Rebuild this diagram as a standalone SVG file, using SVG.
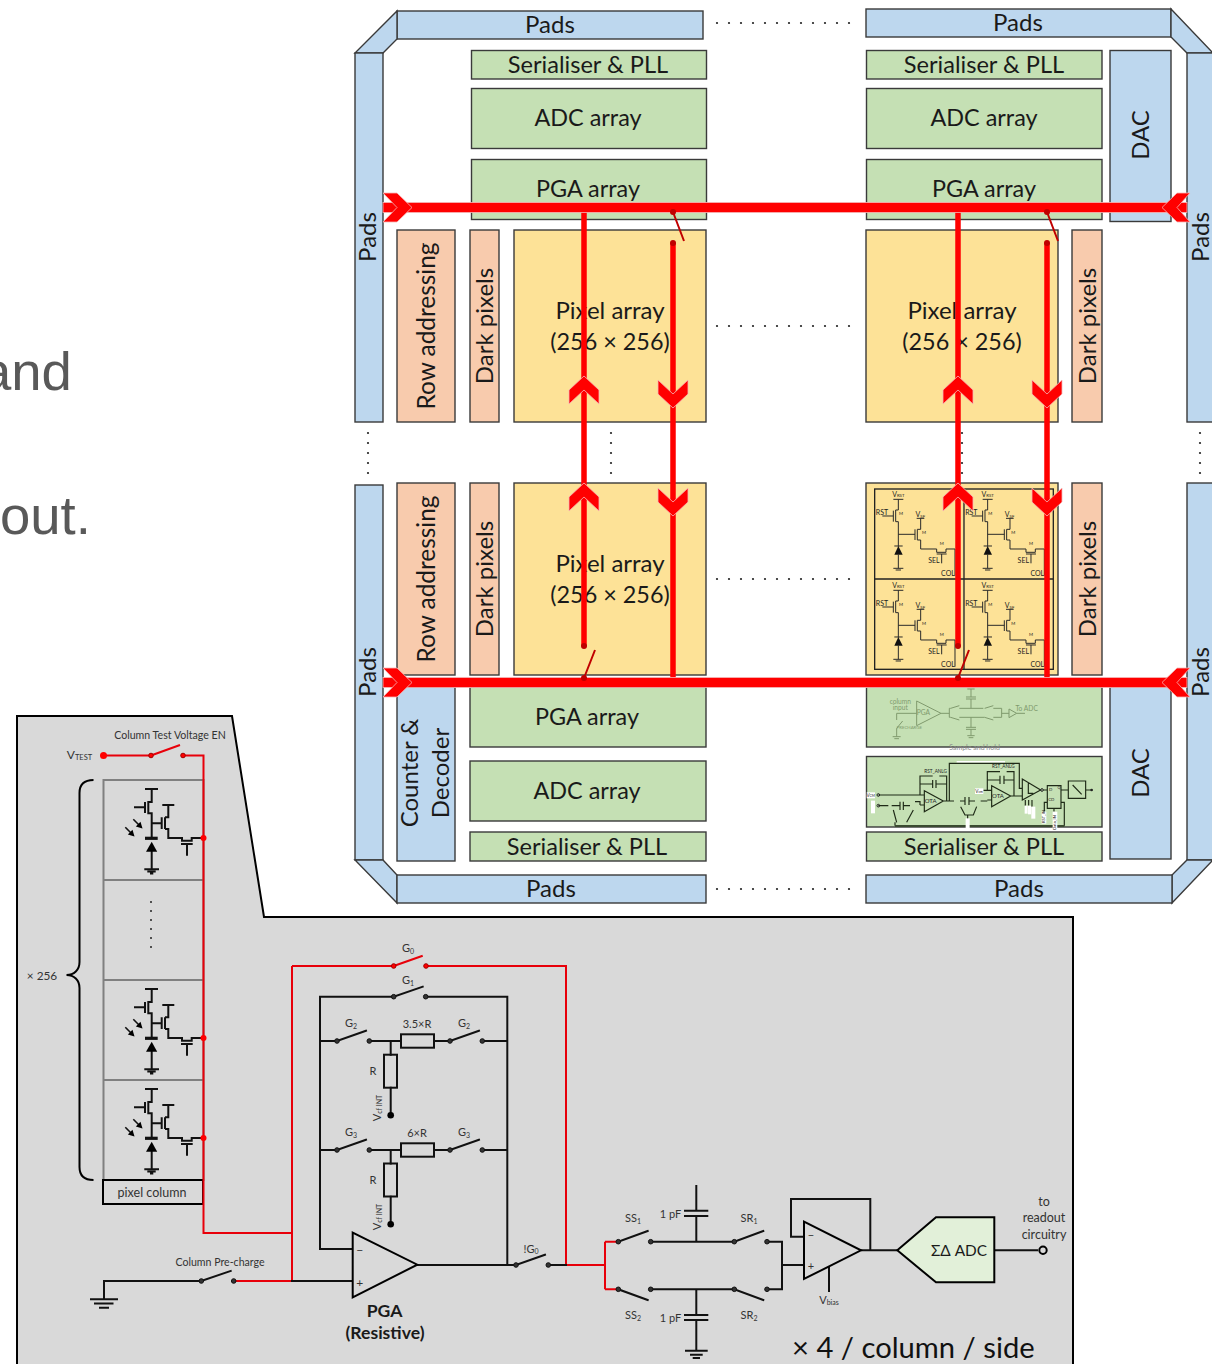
<svg xmlns="http://www.w3.org/2000/svg" xmlns:xlink="http://www.w3.org/1999/xlink" width="1212" height="1364" viewBox="0 0 1212 1364">
<style>
text{font-family:"Lato","Open Sans","Liberation Sans",sans-serif;fill:#1a1a1a}
.b{stroke:#3a3a3a;stroke-width:1.4}
.pad{fill:#bdd7ee}.grn{fill:#c5e0b4}.pch{fill:#f8cbad}.yel{fill:#fde297}
.t{font-size:24px;text-anchor:middle}
.ser{font-size:23.6px}.arr{font-size:23.4px}.num{font-size:23.4px}.row{font-size:24.4px}
.bg{font-family:"Liberation Sans",sans-serif;font-size:54.5px;fill:#595959}
.d{fill:#222}
.w{fill:none;stroke:#111;stroke-width:2;stroke-linecap:square}
.r{fill:none;stroke:#e8000a;stroke-width:2}
.c{fill:#333;stroke:#111;stroke-width:1}
.cr{fill:#ff0000;stroke:#a00000;stroke-width:1}
.s{font-size:11px;fill:#333;text-anchor:middle}
.sm{font-size:7px}
.bus{fill:#ff0000;stroke:#f6b6b6;stroke-width:.8}
.vr{fill:none;stroke:#ff0000;stroke-width:5.5}
.sw{fill:none;stroke:#c00000;stroke-width:2}
.dr{fill:#c00000}
.cw{fill:none;stroke:#2a2a2a;stroke-width:3}
.ct{font-size:21px;fill:#222;text-anchor:middle}
.fw{fill:none;stroke:#7f9a6d;stroke-width:3}
.ft{font-size:20px;fill:#7f9a6d;text-anchor:middle}
.aw{fill:none;stroke:#1f2a17;stroke-width:3.5}
.at{font-size:18px;fill:#222;text-anchor:middle}
</style>
<defs>
<g id="pix">
<path class="w" style="stroke-linecap:butt" d="M145 789H158M151.7 789V802H148.3V813.3H151.7V838M145 802V813M134 807.3H145M151.7 823.3H161.7M161.7 817.3V829M165 817.3V829M165 817.3H168.3V805M162.3 805H174.3M165 829H168.3V838H182V840.7H191.7V838H203.5M181 844H192.7M187 844V855.7M151.7 851V869.3M144.3 869.3H159M147.3 871.5H155.7M150 873.5H153.3"/>
<path class="w" style="stroke-width:3.2;stroke-linecap:butt" d="M145 838.3H157.7"/>
<polygon fill="#000" points="151.7,841.7 146,851.7 157.2,851.7"/>
<path class="w" style="stroke-width:1.6;stroke-linecap:butt" d="M133.3 819.3L139 825M125.3 827.3L131 833"/>
<polygon fill="#000" points="142.5,828.5 135.8,826.5 140.5,821.8"/>
<polygon fill="#000" points="134.5,836.5 127.8,834.5 132.5,829.8"/>
</g>
<g id="cell">
<path class="cw" d="M100 58H130M115 58V90H107V125H115M100 92V125M67 108H100M115 125V200M115 163H165M165 148V180M172 148V180M172 148H182V115M170 115H193M172 180H182V207H230V217H258V207H285V287M230 222H260M245 222V250M103 198H128M115 224V265M100 265H130M107 270H123"/>
<polygon fill="#111" points="115,198 103,224 128,224"/>
<text class="ct" x="115" y="50">V<tspan font-size="13" dy="2">RST</tspan></text>
<text class="ct" x="66" y="104">RST</text>
<text class="ct" x="181" y="111">V<tspan font-size="13" dy="2">SF</tspan></text>
<text class="ct" style="font-size:13px" x="123" y="104">M</text>
<text class="ct" style="font-size:13px" x="192" y="161">M</text>
<text class="ct" style="font-size:13px" x="245" y="194">M</text>
<text class="ct" x="222" y="248">SEL</text>
<text class="ct" x="264" y="287">COL</text>
</g>
</defs>

<rect width="1212" height="1364" fill="#fff"/>
<text class="bg" x="-19" y="390">and</text>
<text class="bg" x="0" y="534">out.</text>

<g id="pads">
<rect class="pad b" x="397" y="11" width="306" height="28"/><text class="t" x="550" y="33">Pads</text>
<polygon class="pad b" points="397,11 397,39 383,53 355,53"/>
<rect class="pad b" x="355" y="53" width="28" height="369"/><text class="t" transform="translate(376,237) rotate(-90)">Pads</text>
<rect class="pad b" x="866" y="9" width="305" height="28"/><text class="t" x="1018" y="31">Pads</text>
<polygon class="pad b" points="1171,9 1171,37 1187,53 1213,53"/>
<rect class="pad b" x="1187" y="53" width="30" height="369"/><text class="t" transform="translate(1209,237) rotate(-90)">Pads</text>
<rect class="pad b" x="355" y="485" width="28" height="375"/><text class="t" transform="translate(376,672) rotate(-90)">Pads</text>
<polygon class="pad b" points="355,860 383,860 397,875 397,903"/>
<rect class="pad b" x="397" y="875" width="309" height="28"/><text class="t" x="551" y="897">Pads</text>
<rect class="pad b" x="1187" y="483" width="30" height="377"/><text class="t" transform="translate(1209,672) rotate(-90)">Pads</text>
<polygon class="pad b" points="1187,860 1213,860 1172,903 1172,875"/>
<rect class="pad b" x="866" y="875" width="306" height="28"/><text class="t" x="1019" y="897">Pads</text>
</g>

<g id="top-left-block">
<rect class="grn b" x="471.5" y="50.5" width="235" height="28.5"/><text class="t ser" x="588" y="73">Serialiser &amp; PLL</text>
<rect class="grn b" x="471.5" y="88.5" width="235" height="60"/><text class="t arr" x="588" y="126">ADC array</text>
<rect class="grn b" x="471.5" y="159.5" width="235" height="60"/><text class="t arr" x="588" y="197">PGA array</text>
<rect class="pch b" x="397" y="230" width="58" height="192"/><text class="t row" transform="translate(435,326) rotate(-90)">Row addressing</text>
<rect class="pch b" x="470" y="230" width="29" height="192"/><text class="t" transform="translate(493,326) rotate(-90)">Dark pixels</text>
<rect class="yel b" x="514" y="230" width="192" height="192"/><text class="t" x="610" y="319">Pixel array</text><text class="t num" x="610" y="350">(256 × 256)</text>
</g>

<g id="top-right-block">
<rect class="grn b" x="866.5" y="50.5" width="235.5" height="28.5"/><text class="t ser" x="984" y="73">Serialiser &amp; PLL</text>
<rect class="grn b" x="866.5" y="88.5" width="235.5" height="60"/><text class="t arr" x="984" y="126">ADC array</text>
<rect class="grn b" x="866.5" y="159.5" width="235.5" height="60"/><text class="t arr" x="984" y="197">PGA array</text>
<rect class="pad b" x="1110" y="50.5" width="61" height="171"/><text class="t" transform="translate(1149,135) rotate(-90)">DAC</text>
<rect class="yel b" x="866" y="230" width="192" height="192"/><text class="t" x="962" y="319">Pixel array</text><text class="t num" x="962" y="350">(256 × 256)</text>
<rect class="pch b" x="1072" y="230" width="30" height="192"/><text class="t" transform="translate(1096,326) rotate(-90)">Dark pixels</text>
</g>

<g id="bottom-left-block">
<rect class="pch b" x="397" y="483" width="58" height="192"/><text class="t row" transform="translate(435,579) rotate(-90)">Row addressing</text>
<rect class="pch b" x="470" y="483" width="29" height="192"/><text class="t" transform="translate(493,579) rotate(-90)">Dark pixels</text>
<rect class="yel b" x="514" y="483" width="192" height="192"/><text class="t" x="610" y="572">Pixel array</text><text class="t num" x="610" y="603">(256 × 256)</text>
<rect class="pad b" x="397" y="687" width="58" height="174"/>
<text class="t" transform="translate(418,773) rotate(-90)">Counter &amp;</text><text class="t" transform="translate(449,773) rotate(-90)">Decoder</text>
<rect class="grn b" x="470" y="687" width="236" height="60"/><text class="t arr" x="587" y="725">PGA array</text>
<rect class="grn b" x="470" y="761" width="236" height="60"/><text class="t arr" x="587" y="799">ADC array</text>
<rect class="grn b" x="470" y="832" width="236" height="29"/><text class="t ser" x="587" y="855">Serialiser &amp; PLL</text>
</g>

<g id="bottom-right-block">
<rect class="yel b" x="866" y="483" width="192" height="192"/>
<rect class="pch b" x="1072" y="483" width="30" height="192"/><text class="t" transform="translate(1096,579) rotate(-90)">Dark pixels</text>
<g id="pixel-inset" transform="translate(860,480) scale(.3333)">
<rect x="44" y="27" width="536" height="541" fill="none" stroke="#222" stroke-width="4"/>
<path d="M312 27V568M44 297H580" fill="none" stroke="#222" stroke-width="4"/>
<use xlink:href="#cell" href="#cell"/>
<use xlink:href="#cell" href="#cell" x="268"/>
<use xlink:href="#cell" href="#cell" y="273"/>
<use xlink:href="#cell" href="#cell" x="268" y="273"/>
</g>
<rect class="pad b" x="1110" y="687" width="61" height="172"/><text class="t" transform="translate(1149,773) rotate(-90)">DAC</text>
<rect class="grn b" x="866.5" y="687" width="235.5" height="60"/>
<g id="sample-hold-inset" transform="translate(860,685) scale(.3333)">
<path class="fw" d="M110 85H170M170 48V122L243 85ZM243 85H268M268 70V97M268 70H272M298 62L272 70M298 70H370M400 62L374 70M400 70H425V97H400M374 97L400 105M374 97H298M272 97L298 105M268 97H272M425 85H447M447 72V98L470 85ZM470 85H495M333 70V42M318 42H348M318 36H348M333 36V12M322 12H344M333 97V127M318 127H348M318 133H348M333 133V152M322 152H344M326 158H340M110 85V105M110 130L128 108M110 130V155M98 155H122M103 161H117"/>
<text class="ft" x="121" y="56">column</text><text class="ft" x="121" y="76">input</text><text class="ft" x="190" y="91">PGA</text><text class="ft" x="500" y="79">To ADC</text><text class="ft" style="font-size:13px" x="148" y="132">PRECHARGE</text>
</g>
<text x="974.5" y="750" style="font-size:7px;fill:#8a8a8a;text-anchor:middle">Sample and hold</text>
<rect class="grn b" x="866.5" y="756.5" width="235.5" height="70.5"/>
<g id="adc-inset" transform="translate(860,685) scale(.3333)">
<rect x="290" y="228" width="145" height="5" fill="#fff"/>
<path class="aw" d="M268 348V235H478V310L487 310M55 330H180M55 362H85M165 350H180V360M180 330V273H218M238 273H260V348M180 297H218M228 297H260M218 285V309M228 285V309M193 317V380L250 348ZM180 330H193M180 360H193M250 348H282M300 348H315M327 348H345M362 348H382M95 362H120M130 362H150M120 350V375M130 350V375M100 375L110 412M160 375L140 412M315 336V360M327 336V360M302 365L315 390H340L350 365M323 390V415M370 316H395M382 345H395M395 302V365L452 333ZM382 316V260H420M440 260H462V333M382 285H420M432 285H462M420 272V297M432 272V297M452 333H487M487 282V345L542 315ZM505 295V325H520M496 345V362M506 345V362M516 345V365M550 315H562M562 302H603V370H562ZM603 315H625M625 288H677V340H625ZM638 300L665 328M677 315H695M553 380V352H562M582 370V380M603 352H613V422M105 422H613M105 412V422"/>
<path d="M105 423H613" stroke="#3a4a30" stroke-width="6" fill="none"/>
<circle cx="55" cy="330" r="4" fill="none" stroke="#222" stroke-width="3"/><circle cx="55" cy="362" r="4" fill="none" stroke="#222" stroke-width="3"/><circle cx="546" cy="315" r="4" fill="none" stroke="#222" stroke-width="3"/><circle cx="695" cy="315" r="4" fill="#222"/>
<rect x="20" y="322" width="25" height="18" fill="#fff"/><rect x="33" y="347" width="12" height="38" fill="#fff"/><rect x="345" y="310" width="25" height="17" fill="#fff"/>
<rect x="494" y="362" width="9" height="24" fill="#fff"/><rect x="504" y="362" width="9" height="26" fill="#fff"/><rect x="514" y="365" width="12" height="36" fill="#fff"/><rect x="545" y="380" width="14" height="36" fill="#fff"/><rect x="578" y="380" width="14" height="56" fill="#fff"/><rect x="317" y="400" width="12" height="30" fill="#fff"/>
<text class="at" x="32" y="336" style="font-size:14px">V<tspan font-size="10">CM</tspan></text>
<text class="at" x="357" y="323" style="font-size:14px">V<tspan font-size="10">cm</tspan></text>
<text class="at" x="227" y="264" style="font-size:14px">RST_ANLG</text>
<text class="at" x="430" y="249" style="font-size:14px">RST_ANLG</text>
<text class="at" x="212" y="354">OTA</text><text class="at" x="414" y="339">OTA</text>
<text class="at" x="572" y="318" style="font-size:13px">D</text><text class="at" x="597" y="312" style="font-size:11px">Q</text><text class="at" x="574" y="348" style="font-size:13px">CD</text>
<text class="at" transform="translate(555,414) rotate(-90)" style="font-size:12px;text-anchor:start">RST_IN</text>
<text class="at" transform="translate(588,434) rotate(-90)" style="font-size:12px;text-anchor:start">Data_IN</text>
</g>
<rect class="grn b" x="866.5" y="832" width="235.5" height="29"/><text class="t ser" x="984" y="855">Serialiser &amp; PLL</text>
</g>

<g id="dots" fill="#222">
<g id="dh">
<circle cx="717" cy="23" r="1.1"/><circle cx="729" cy="23" r="1.1"/><circle cx="741" cy="23" r="1.1"/><circle cx="753" cy="23" r="1.1"/><circle cx="765" cy="23" r="1.1"/><circle cx="777" cy="23" r="1.1"/><circle cx="789" cy="23" r="1.1"/><circle cx="801" cy="23" r="1.1"/><circle cx="813" cy="23" r="1.1"/><circle cx="825" cy="23" r="1.1"/><circle cx="837" cy="23" r="1.1"/><circle cx="849" cy="23" r="1.1"/>
</g>
<use xlink:href="#dh" href="#dh" y="303"/><use xlink:href="#dh" href="#dh" y="556"/><use xlink:href="#dh" href="#dh" y="866"/>
<g id="dv">
<circle cx="368" cy="433" r="1.1"/><circle cx="368" cy="443" r="1.1"/><circle cx="368" cy="453" r="1.1"/><circle cx="368" cy="463" r="1.1"/><circle cx="368" cy="473" r="1.1"/>
</g>
<use xlink:href="#dv" href="#dv" x="243"/><use xlink:href="#dv" href="#dv" x="594"/><use xlink:href="#dv" href="#dv" x="832"/>
</g>

<g id="chip-connectors">
<path class="vr" d="M584 207V646M958 207V646M673 243V682M1047 243V682"/>
<path class="sw" d="M673 212L684 241M1047 212L1058 241M584 678L595 650M958 678L969 650"/>
<rect class="bus" x="383" y="202.5" width="804" height="10"/>
<rect class="bus" x="383" y="677.5" width="804" height="10"/>
<g class="bus">
<polygon points="383,193 397,193 412,207.5 397,222 383,222 397,207.5"/>
<polygon points="383,668 397,668 412,682.5 397,697 383,697 397,682.5"/>
<polygon points="1190,193 1177,193 1162,207.5 1177,222 1190,222 1177,207.5"/>
<polygon points="1190,668 1177,668 1162,682.5 1177,697 1190,697 1177,682.5"/>
<polygon points="584,376 599,390 599,404 584,390 569,404 569,390"/>
<polygon points="584,483 599,497 599,511 584,497 569,511 569,497"/>
<polygon points="958,376 973,390 973,404 958,390 943,404 943,390"/>
<polygon points="958,483 973,497 973,511 958,497 943,511 943,497"/>
<polygon points="673,408 658,394 658,380 673,394 688,380 688,394"/>
<polygon points="673,516 658,502 658,488 673,502 688,488 688,502"/>
<polygon points="1047,408 1032,394 1032,380 1047,394 1062,380 1062,394"/>
<polygon points="1047,516 1032,502 1032,488 1047,502 1062,488 1062,502"/>
</g>
<circle class="dr" cx="673" cy="212" r="3"/><circle class="dr" cx="673" cy="243" r="3"/><circle class="dr" cx="1047" cy="212" r="3"/><circle class="dr" cx="1047" cy="243" r="3"/>
<circle class="dr" cx="584" cy="646" r="3"/><circle class="dr" cx="584" cy="678" r="3"/><circle class="dr" cx="958" cy="646" r="3"/><circle class="dr" cx="958" cy="678" r="3"/>
</g>

<polygon id="panel" points="17,716 232,716 264,917 1073,917 1073,1365 17,1365" fill="#d9d9d9" stroke="#000" stroke-width="2"/>

<g id="pixel-column">
<rect x="103.5" y="780" width="100" height="400" fill="none" stroke="#808080" stroke-width="2"/>
<path d="M103.5 880H203.5M103.5 980H203.5M103.5 1080H203.5" stroke="#808080" stroke-width="2" fill="none"/>
<use xlink:href="#pix" href="#pix"/><use xlink:href="#pix" href="#pix" y="200"/><use xlink:href="#pix" href="#pix" y="300"/>
<g fill="#222"><circle cx="151" cy="902" r="1"/><circle cx="151" cy="911" r="1"/><circle cx="151" cy="920" r="1"/><circle cx="151" cy="929" r="1"/><circle cx="151" cy="938" r="1"/><circle cx="151" cy="947" r="1"/></g>
<rect x="103" y="1180" width="100" height="24" fill="none" stroke="#000" stroke-width="2"/>
<text class="s" style="font-size:12.5px" x="152" y="1197">pixel column</text>
<path d="M93.5 780C84 780 79.5 785 79.5 793V962C79.5 970 74 975 66.5 975C74 975 79.5 980 79.5 988V1167C79.5 1175 84 1180 93.5 1180" fill="none" stroke="#000" stroke-width="2"/>
<text class="s" style="font-size:11.8px" x="42" y="980">× 256</text>
</g>

<g id="connectors">
<path class="r" d="M103.5 755.5H151M183 755.5H203.5V1233H292M292 966V1281H234M292 966H393.7M426 966H566V1265H605M605 1241.7V1289.3M605 1241.7H618.3M605 1289.3H618.3"/>
<path class="r" d="M151 755.5L180 745M393.7 966L422.7 955.7"/>
<circle cx="103.5" cy="755.5" r="3.5" fill="#f00"/>
<circle class="cr" cx="151" cy="755.5" r="2.3"/><circle class="cr" cx="183" cy="755.5" r="2.3"/>
<circle cx="203.5" cy="838" r="3" fill="#f00"/><circle cx="203.5" cy="1038" r="3" fill="#f00"/><circle cx="203.5" cy="1138" r="3" fill="#f00"/>
<circle class="cr" cx="393.7" cy="966" r="2.3"/><circle class="cr" cx="426" cy="966" r="2.3"/>
<path class="w" d="M425.7 996.7H507.3V1265M393.7 996.7H320V1249H352M393.7 996.7L422.7 986.7"/>
<path class="w" d="M320 1041H337L366 1030.7M369.3 1041H401M434 1041H450L479 1030.7M482.3 1041H507M390.7 1041V1054.7M390.7 1087.7V1115"/>
<path class="w" d="M320 1150H337L366 1139.7M369.3 1150H401M434 1150H450L479 1139.7M482.3 1150H507M390.7 1150V1163.5M390.7 1196.7V1224"/>
<g fill="none" stroke="#111" stroke-width="2"><rect x="401" y="1034.3" width="33" height="13.4"/><rect x="384" y="1054.7" width="13" height="33"/><rect x="401" y="1143.3" width="33" height="13.4"/><rect x="384" y="1163.5" width="13" height="33"/></g>
<circle class="c" cx="393.7" cy="996.7" r="2.3"/><circle class="c" cx="425.7" cy="996.7" r="2.3"/>
<circle class="c" cx="337" cy="1041" r="2.3"/><circle class="c" cx="369.3" cy="1041" r="2.3"/><circle class="c" cx="450" cy="1041" r="2.3"/><circle class="c" cx="482.3" cy="1041" r="2.3"/>
<circle class="c" cx="337" cy="1150" r="2.3"/><circle class="c" cx="369.3" cy="1150" r="2.3"/><circle class="c" cx="450" cy="1150" r="2.3"/><circle class="c" cx="482.3" cy="1150" r="2.3"/>
<circle cx="390.7" cy="1115.3" r="3.3" fill="#000"/><circle cx="390.7" cy="1224.3" r="3.3" fill="#000"/>
<path class="w" d="M292 1281H352M417.3 1265H516L545 1254.7M548.3 1265H566"/>
<path class="w" d="M104 1299V1281H201.3L230.7 1271"/>
<path class="w" style="stroke-linecap:butt" d="M90 1299.3H118M94 1303.5H113.5M99 1307.7H109"/>
<circle class="c" cx="201.3" cy="1281" r="2.3"/><circle class="c" cx="233.7" cy="1281" r="2.3"/><circle class="c" cx="516" cy="1265" r="2.3"/><circle class="c" cx="548.3" cy="1265" r="2.3"/>
<path class="w" d="M618.3 1241.7L647.7 1231M650.7 1241.7H734.3L763.3 1231M767 1241.7H782V1289.3H767M618.3 1289.3L647.7 1300M650.7 1289.3H734.3L763.3 1300M782 1265H804"/>
<path class="w" style="stroke-linecap:butt" d="M696.3 1241.7V1216M684 1216H708.3M684 1210.7H708.3M696.3 1210.7V1185M696.3 1289.3V1315M684 1315H708.3M684 1320H708.3M696.3 1320V1350.7M685 1350.7H707.7M690 1354.7H702.7M692.7 1358H700"/>
<circle class="c" cx="618.3" cy="1241.7" r="2.3"/><circle class="c" cx="650.7" cy="1241.7" r="2.3"/><circle class="c" cx="734.3" cy="1241.7" r="2.3"/><circle class="c" cx="767" cy="1241.7" r="2.3"/>
<circle class="c" cx="618.3" cy="1289.3" r="2.3"/><circle class="c" cx="650.7" cy="1289.3" r="2.3"/><circle class="c" cx="734.3" cy="1289.3" r="2.3"/><circle class="c" cx="767" cy="1289.3" r="2.3"/>
<path class="w" style="stroke-linecap:butt" d="M804 1236.7H791V1199H870.3V1250.3M861 1250.3H897.3M829 1266V1292M994.3 1250.3H1038"/>
<circle cx="1043" cy="1250.3" r="3.7" fill="#d9d9d9" stroke="#000" stroke-width="2"/>
</g>

<g id="labels">
<text class="s" style="font-size:10.6px" x="170" y="739">Column Test Voltage EN</text>
<text class="s" style="font-size:12px" x="79.5" y="759">V<tspan font-size="7.5" dy="1">TEST</tspan></text>
<text class="s" x="408" y="952">G<tspan font-size="7" dy="2">0</tspan></text>
<text class="s" x="408" y="984">G<tspan font-size="7" dy="2">1</tspan></text>
<text class="s" x="351" y="1027">G<tspan font-size="7" dy="2">2</tspan></text>
<text class="s" x="464" y="1027">G<tspan font-size="7" dy="2">2</tspan></text>
<text class="s" x="417" y="1028">3.5×R</text>
<text class="s" x="351" y="1136">G<tspan font-size="7" dy="2">3</tspan></text>
<text class="s" x="464" y="1136">G<tspan font-size="7" dy="2">3</tspan></text>
<text class="s" x="417" y="1137">6×R</text>
<text class="s" x="373" y="1075">R</text><text class="s" x="373" y="1184">R</text>
<text class="s" transform="translate(381,1108) rotate(-90)">V<tspan font-size="7" dy="1">cf INT</tspan></text>
<text class="s" transform="translate(381,1217) rotate(-90)">V<tspan font-size="7" dy="1">cf INT</tspan></text>
<text class="s" style="font-size:10.6px" x="220" y="1266">Column Pre-charge</text>
<text class="s" x="531" y="1253">!G<tspan font-size="7" dy="1">0</tspan></text>
<text class="s" style="font-size:12px" x="359.7" y="1254">−</text><text class="s" style="font-size:12px" x="359.7" y="1287">+</text>
<g style="font-size:17.6px;font-weight:700;text-anchor:middle"><text x="384.5" y="1317">PGA</text><text x="385" y="1339">(Resistive)</text></g>
<text class="s" x="633" y="1222">SS<tspan font-size="7" dy="2">1</tspan></text>
<text class="s" x="749" y="1222">SR<tspan font-size="7" dy="2">1</tspan></text>
<text class="s" x="633" y="1319">SS<tspan font-size="7" dy="2">2</tspan></text>
<text class="s" x="749" y="1319">SR<tspan font-size="7" dy="2">2</tspan></text>
<text class="s" x="670.5" y="1218">1 pF</text><text class="s" x="670.5" y="1322">1 pF</text>
<text class="s" x="829" y="1304">V<tspan font-size="7" dy="1">bias</tspan></text>
<text class="s" style="font-size:12.5px" x="1044" y="1206">to</text><text class="s" style="font-size:12.5px" x="1044" y="1222">readout</text><text class="s" style="font-size:12.5px" x="1044" y="1239">circuitry</text>
<text x="792" y="1358" style="font-size:29.2px;fill:#111">× 4 / column / side</text>
</g>

<g id="pga-opamp"><polygon points="352.7,1232.7 352.7,1297.3 417.3,1264.7" fill="none" stroke="#000" stroke-width="2"/></g>
<g id="buffer-opamp"><polygon points="804,1221.7 804,1279 861,1250.3" fill="#d9d9d9" stroke="#000" stroke-width="2"/><text class="s" x="811" y="1239">−</text><text class="s" x="811" y="1270">+</text></g>
<g id="sd-adc"><polygon points="897.3,1250.3 936,1217.3 994.3,1217.3 994.3,1282.3 936,1282.3" fill="#e2f0d9" stroke="#000" stroke-width="2"/><text x="959" y="1256" style="font-size:15.4px;text-anchor:middle">ΣΔ ADC</text></g>
</svg>
